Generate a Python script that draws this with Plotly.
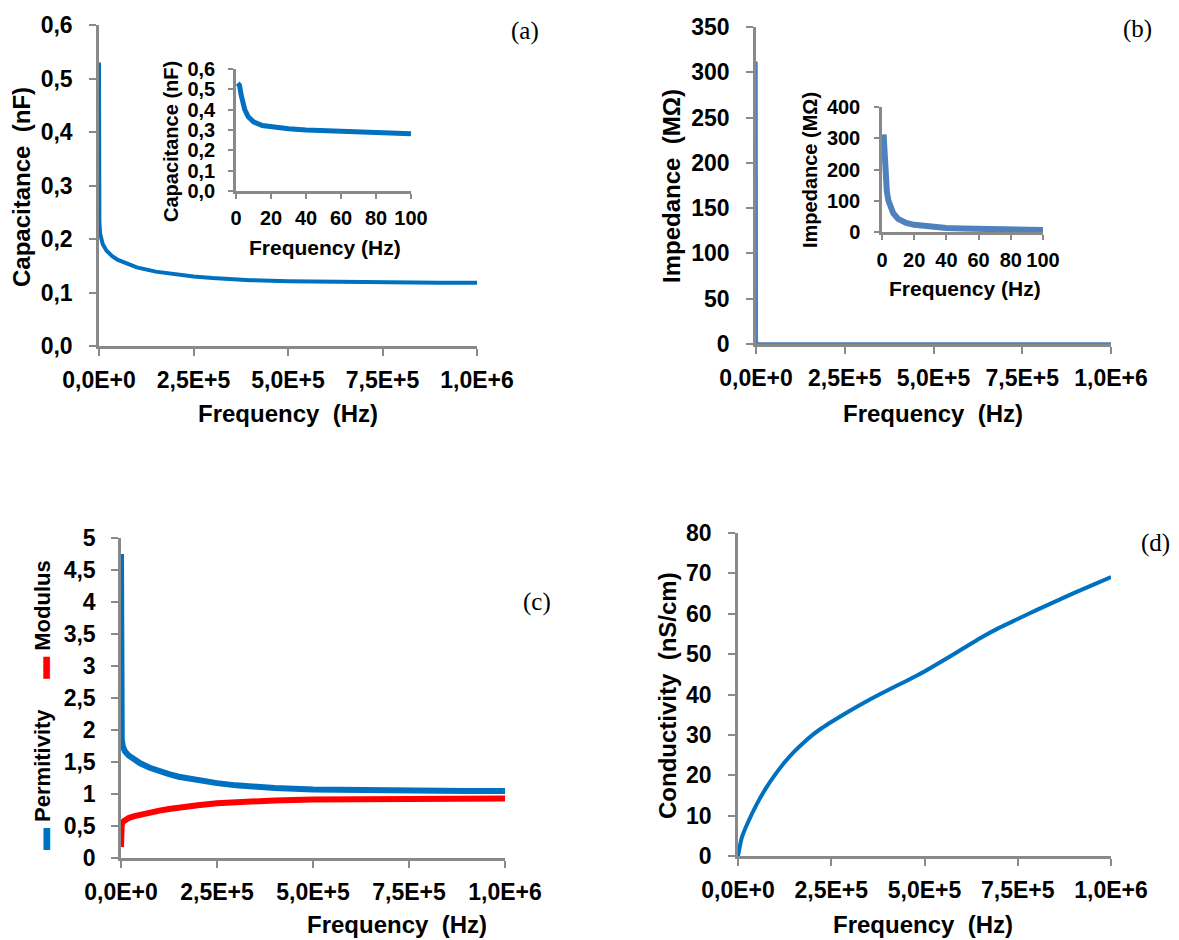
import plotly.graph_objects as go

# ---------------- data ----------------
# (a) capacitance (nF) vs frequency (Hz)
freq_a = [1, 2, 3, 4, 5, 7, 10, 15, 20, 30, 40, 50, 60, 70, 80, 90, 100,
          300, 1000, 3000, 6000, 10000, 20000, 35000, 50000, 75000, 100000, 150000, 200000,
          250000, 300000, 400000, 500000, 600000, 700000, 800000, 900000, 1000000]
cap_a = [0.53, 0.52, 0.47, 0.43, 0.40, 0.365, 0.34, 0.322, 0.315, 0.306, 0.300, 0.296,
         0.292, 0.289, 0.287, 0.284, 0.281,
         0.255, 0.232, 0.21, 0.198, 0.19, 0.178, 0.168, 0.161, 0.153, 0.147, 0.139, 0.134,
         0.130, 0.127, 0.123, 0.121, 0.120, 0.119, 0.119, 0.118, 0.118]

# (b) impedance (MOhm) vs frequency (Hz)
freq_b = [1, 2, 3, 4, 5, 7, 10, 15, 20, 30, 40, 50, 60, 70, 80, 90, 100,
          1000, 10000, 100000, 1000000]
imp_b = [312, 200, 130, 100, 82, 60, 42, 29, 23, 16, 13, 11, 9.5, 8.5, 7.5, 6.8, 6.2,
         0.6, 0.07, 0.01, 0.001]

# (c) permitivity and modulus vs frequency (Hz)
freq_c = [1, 100, 1000, 2000, 5000, 10000, 20000, 35000, 50000, 75000, 100000, 125000,
          150000, 200000, 250000, 300000, 350000, 400000, 500000, 600000, 700000, 800000,
          900000, 1000000]
perm_c = [4.75, 2.6, 2.0, 1.85, 1.74, 1.67, 1.60, 1.53, 1.48, 1.41, 1.355, 1.31,
          1.27, 1.21, 1.17, 1.135, 1.11, 1.095, 1.072, 1.06, 1.053, 1.049,
          1.046, 1.045]
mod_c = [0.17, 0.38, 0.50, 0.53, 0.565, 0.595, 0.625, 0.655, 0.68, 0.71, 0.74, 0.765,
         0.79, 0.825, 0.855, 0.875, 0.89, 0.90, 0.915, 0.922, 0.926, 0.928,
         0.93, 0.93]

# (d) conductivity (nS/cm) vs frequency (Hz)
freq_d = [0, 10000, 25000, 50000, 75000, 100000, 125000, 150000, 175000, 200000, 225000,
          250000, 300000, 350000, 400000, 450000, 500000, 550000, 600000, 650000, 700000,
          750000, 800000, 850000, 900000, 950000, 1000000]
cond_d = [0, 4.5, 8.0, 12.8, 16.8, 20.2, 23.2, 25.8, 28.0, 30.0, 31.7,
          33.2, 36.0, 38.6, 41.0, 43.3, 45.7, 48.4, 51.2, 54.0, 56.5,
          58.7, 60.9, 63.0, 65.1, 67.1, 69.1]

# tick labels
x_main_vals = [0, 250000, 500000, 750000, 1000000]
x_main_text = ["0,0E+0", "2,5E+5", "5,0E+5", "7,5E+5", "1,0E+6"]
x_inset_vals = [0, 20, 40, 60, 80, 100]
x_inset_text = ["0", "20", "40", "60", "80", "100"]
y_a_vals = [0, 0.1, 0.2, 0.3, 0.4, 0.5, 0.6]
y_a_text = ["0,0", "0,1", "0,2", "0,3", "0,4", "0,5", "0,6"]
y_b_vals = [0, 50, 100, 150, 200, 250, 300, 350]
y_b_text = ["0", "50", "100", "150", "200", "250", "300", "350"]
y_bi_vals = [0, 100, 200, 300, 400]
y_bi_text = ["0", "100", "200", "300", "400"]
y_c_vals = [0, 0.5, 1, 1.5, 2, 2.5, 3, 3.5, 4, 4.5, 5]
y_c_text = ["0", "0,5", "1", "1,5", "2", "2,5", "3", "3,5", "4", "4,5", "5"]
y_d_vals = [0, 10, 20, 30, 40, 50, 60, 70, 80]
y_d_text = ["0", "10", "20", "30", "40", "50", "60", "70", "80"]

# ---------------- layout helpers ----------------
W, H = 1179, 940
BLUE = "#0070C0"
BLUE_B = "#4F81BD"
RED = "#FF0000"
GRAY = "#898989"
FONT = "Liberation Sans"
TICK_MAIN = 23
TICK_INSET = 20


def dx(a, b):
    return [a / W, b / W]


def dy(top, bottom):
    return [1 - bottom / H, 1 - top / H]


def px(x):
    return x / W


def py(y):
    return 1 - y / H


def axis(domain, anchor, vals, text, rng, size, standoff, ticklen=7):
    return dict(domain=domain, anchor=anchor, range=rng, showline=True, linecolor=GRAY,
                linewidth=2.5, ticks="outside", ticklen=ticklen, tickwidth=2, tickcolor=GRAY,
                showgrid=False, zeroline=False, tickmode="array", tickvals=vals,
                ticktext=text, tickangle=0, ticklabelstandoff=standoff, automargin=False,
                tickfont=dict(family=FONT, size=size, color="black", weight="bold"),
                fixedrange=True)


fig = go.Figure()

inset_a_f = [f for f in freq_a if f <= 100]
inset_a_c = [c for f, c in zip(freq_a, cap_a) if f <= 100]
inset_b_f = [f for f in freq_b if f <= 100]
inset_b_z = [z for f, z in zip(freq_b, imp_b) if f <= 100]

fig.add_trace(go.Scatter(x=freq_a, y=cap_a, mode="lines", line=dict(color=BLUE, width=4),
                         xaxis="x", yaxis="y", cliponaxis=False, showlegend=False))
fig.add_trace(go.Scatter(x=inset_a_f, y=inset_a_c, mode="lines", line=dict(color=BLUE, width=5),
                         xaxis="x2", yaxis="y2", cliponaxis=False, showlegend=False))
fig.add_trace(go.Scatter(x=freq_b, y=imp_b, mode="lines", line=dict(color=BLUE_B, width=3.5),
                         xaxis="x3", yaxis="y3", cliponaxis=False, showlegend=False))
fig.add_trace(go.Scatter(x=inset_b_f, y=inset_b_z, mode="lines", line=dict(color=BLUE_B, width=6),
                         xaxis="x4", yaxis="y4", cliponaxis=False, showlegend=False))
fig.add_trace(go.Scatter(x=freq_c, y=perm_c, mode="lines", line=dict(color=BLUE, width=6),
                         xaxis="x5", yaxis="y5", cliponaxis=False, name="Permitivity",
                         showlegend=False))
fig.add_trace(go.Scatter(x=freq_c, y=mod_c, mode="lines", line=dict(color=RED, width=6),
                         xaxis="x5", yaxis="y5", cliponaxis=False, name="Modulus",
                         showlegend=False))
fig.add_trace(go.Scatter(x=freq_d, y=cond_d, mode="lines",
                         line=dict(color=BLUE, width=4, shape="spline", smoothing=0.6),
                         xaxis="x6", yaxis="y6", cliponaxis=False, showlegend=False))

fig.update_layout(
    width=W, height=H, margin=dict(l=0, r=0, t=0, b=0, autoexpand=False),
    paper_bgcolor="white", plot_bgcolor="rgba(0,0,0,0)",
    showlegend=False,
    xaxis=axis(dx(99, 477), "y", x_main_vals, x_main_text, [0, 1000000], TICK_MAIN, 5),
    yaxis=axis(dy(25, 346), "x", y_a_vals, y_a_text, [0, 0.6], TICK_MAIN, 12),
    xaxis2=axis(dx(236, 411), "y2", x_inset_vals, x_inset_text, [0, 100], TICK_INSET, 2, 5),
    yaxis2=axis(dy(69, 191), "x2", y_a_vals, y_a_text, [0, 0.6], TICK_INSET, 9, 5),
    xaxis3=axis(dx(756, 1111), "y3", x_main_vals, x_main_text, [0, 1000000], TICK_MAIN, 5),
    yaxis3=axis(dy(27, 344), "x3", y_b_vals, y_b_text, [0, 350], TICK_MAIN, 12),
    xaxis4=axis(dx(882, 1043), "y4", x_inset_vals, x_inset_text, [0, 100], TICK_INSET, 3, 5),
    yaxis4=axis(dy(107, 232), "x4", y_bi_vals, y_bi_text, [0, 400], TICK_INSET, 10, 5),
    xaxis5=axis(dx(121, 505), "y5", x_main_vals, x_main_text, [0, 1000000], TICK_MAIN, 5),
    yaxis5=axis(dy(538, 858), "x5", y_c_vals, y_c_text, [0, 5], TICK_MAIN, 11),
    xaxis6=axis(dx(738, 1111), "y6", x_main_vals, x_main_text, [0, 1000000], TICK_MAIN, 5),
    yaxis6=axis(dy(533, 856), "x6", y_d_vals, y_d_text, [0, 80], TICK_MAIN, 12),
)

NB = "\u00a0"


def note(text, x, y, size, angle=0, family=FONT, weight="bold"):
    fig.add_annotation(text=text, x=px(x), y=py(y), xref="paper", yref="paper",
                       xanchor="center", yanchor="middle", showarrow=False, textangle=angle,
                       font=dict(family=family, size=size, color="black", weight=weight))


# axis titles - main panels
note("Frequency" + NB * 2 + "(Hz)", 288, 413, 24)
note("Capacitance" + NB * 2 + "(nF)", 21, 187, 24, -90)
note("Frequency" + NB * 2 + "(Hz)", 933, 413, 24)
note("Impedance" + NB * 2 + "(MΩ)", 671, 186, 24, -90)
note("Frequency" + NB * 2 + "(Hz)", 397, 924, 24)
note("Frequency" + NB * 2 + "(Hz)", 923, 924, 24)
note("Conductivity" + NB * 2 + "(nS/cm)", 667, 696, 24, -90)

# inset titles
note("Frequency (Hz)", 325, 247, 21)
note("Capacitance (nF)", 171, 142, 20, -90)
note("Frequency (Hz)", 965, 288, 21)
note("Impedance (MΩ)", 810, 170, 20, -90)

# legend of (c), vertical
legend_text = (f"<span style='color:{BLUE}'>▬</span>{NB}Permitivity{NB * 5}"
               f"<span style='color:{RED}'>▬</span>{NB}Modulus")
note(legend_text, 42, 705, 22, -90)

# panel letters
note("(a)", 525, 31, 25, 0, "Liberation Serif", "normal")
note("(b)", 1137, 29, 25, 0, "Liberation Serif", "normal")
note("(c)", 537, 602, 25, 0, "Liberation Serif", "normal")
note("(d)", 1155, 543, 25, 0, "Liberation Serif", "normal")

fig.write_html("out.html", config={"displayModeBar": False},
               post_script="document.body.style.margin='0px';"
                           "document.body.style.overflow='hidden';")
